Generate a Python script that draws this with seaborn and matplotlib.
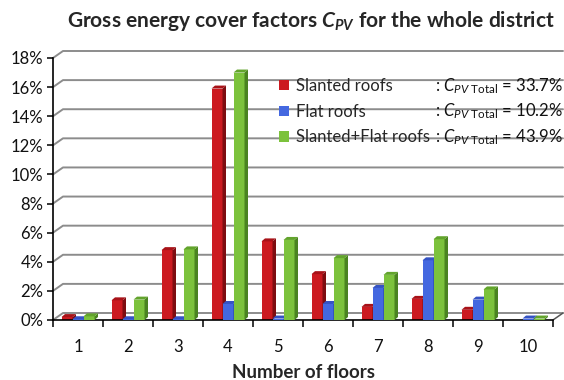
import matplotlib
matplotlib.use("Agg")
import numpy as np
import pandas as pd
import matplotlib.pyplot as plt
from matplotlib.patches import Polygon, Patch
import seaborn as sns

# Gross energy cover factors (in %) per number of floors
floors = ["1", "2", "3", "4", "5", "6", "7", "8", "9", "10"]
slanted = [0.20, 1.35, 4.80, 15.90, 5.40, 3.15, 0.90, 1.45, 0.70, 0.00]
flat = [0.05, 0.05, 0.05, 1.10, 0.10, 1.10, 2.20, 4.10, 1.40, 0.10]
combined = [0.25, 1.40, 4.85, 17.00, 5.50, 4.25, 3.10, 5.55, 2.10, 0.10]
series = ["Slanted roofs", "Flat roofs", "Slanted+Flat roofs"]
totals = [33.7, 10.2, 43.9]
yticks = [0, 2, 4, 6, 8, 10, 12, 14, 16, 18]

front_cols = ["#cc1a20", "#4468e0", "#7cc23c"]
side_cols = ["#7e0d11", "#253f9e", "#4a8320"]
top_cols = ["#a81218", "#3553c4", "#62a42c"]

df = pd.DataFrame({
    "floor": floors * 3,
    "value": slanted + flat + combined,
    "series": [s for s in series for _ in floors],
})

sns.set_theme(style="white")
plt.rcParams["font.family"] = ["Lato", "DejaVu Sans"]
plt.rcParams["mathtext.fontset"] = "custom"
plt.rcParams["mathtext.rm"] = "Lato"
plt.rcParams["mathtext.it"] = "Lato:italic"
plt.rcParams["mathtext.bf"] = "Lato:bold"
plt.rcParams["mathtext.bfit"] = "Lato:italic:bold"

fig = plt.figure(figsize=(5.64, 3.80), dpi=100)
ax = fig.add_axes([53 / 564, 60 / 380, 500 / 564, 262 / 380])

sns.barplot(data=df, x="floor", y="value", hue="series", hue_order=series,
            palette=front_cols, saturation=1, width=0.66, legend=False, ax=ax)

ax.set_xlim(-0.5, 9.5)
ax.set_ylim(0, 18)
ax.set_yticks(yticks)
ax.set_yticklabels([f"{v}%" for v in yticks], fontsize=12, color="#111111")
for s in ["top", "right"]:
    ax.spines[s].set_visible(False)
ax.spines["left"].set_color("black")
ax.spines["left"].set_linewidth(1.2)
ax.spines["bottom"].set_color("black")
ax.spines["bottom"].set_linewidth(1.2)
ax.set_xticks(np.arange(-0.5, 10, 1.0), minor=True)
ax.tick_params(axis="x", which="major", length=0, pad=14, labelsize=12,
               labelcolor="#111111")
ax.tick_params(axis="x", which="minor", length=5, width=1.1, color="black",
               direction="out", bottom=True)
ax.tick_params(axis="y", length=4, width=1.1, color="black", direction="out",
               left=True, pad=3)
ax.set_xlabel("Number of floors", fontsize=13.5, fontweight="bold", labelpad=6)
ax.set_ylabel("")

to_disp = ax.transData.transform
to_data = ax.transData.inverted().transform

# back wall grid, drawn as a slanted floor/wall outline
back = np.array([10.0, 7.0])
x0, x1 = ax.get_xlim()
for v in yticks:
    p = to_disp((x0, v))
    q = p + back
    r = np.array([to_disp((x1, v))[0] + back[0], q[1]])
    pts = to_data(np.array([p, q, r]))
    ax.plot(pts[:, 0], pts[:, 1], color="#8c8c8c", lw=1.4, clip_on=False, zorder=0.5)
# right edge of the floor
pr = to_disp((x1, 0))
pts = to_data(np.array([pr, pr + back]))
ax.plot(pts[:, 0], pts[:, 1], color="#555555", lw=1.1, clip_on=False, zorder=0.6)

# give each bar a shaded side and top face
depth = np.array([3.5, 3.0])
for k, cont in enumerate(ax.containers):
    for bar in cont:
        h = bar.get_height()
        if h <= 0:
            bar.set_visible(False)
            continue
        bar.set_zorder(2 + k)
        bar.set_edgecolor("none")
        bx, bw = bar.get_x(), bar.get_width()
        bl, br = to_disp((bx, 0)), to_disp((bx + bw, 0))
        tl, tr = to_disp((bx, h)), to_disp((bx + bw, h))
        side = to_data(np.array([br, br + depth, tr + depth, tr]))
        top = to_data(np.array([tl, tr, tr + depth, tl + depth]))
        ax.add_patch(Polygon(side, closed=True, facecolor=side_cols[k],
                             edgecolor="none", zorder=2 + k, clip_on=False))
        ax.add_patch(Polygon(top, closed=True, facecolor=top_cols[k],
                             edgecolor="none", zorder=2 + k, clip_on=False))

handles = [Patch(facecolor=c, edgecolor="none") for c in front_cols]
leg = ax.legend(handles, series, loc="upper left",
                bbox_to_anchor=(279 / 564, 1 - 78 / 380),
                bbox_transform=fig.transFigure, frameon=False, fontsize=12,
                handlelength=0.6, handleheight=0.6, handletextpad=0.45,
                labelspacing=0.58, borderaxespad=0, borderpad=0)

fig.canvas.draw()
renderer = fig.canvas.get_renderer()
for t, tot in zip(leg.get_texts(), totals):
    bb = t.get_window_extent(renderer)
    _, _, d = renderer.get_text_width_height_descent("lp", t.get_fontproperties(), ismath=False)
    base = bb.y0 + d
    fig.text(435 / 564, base / 380,
             r": $C_{PV\ \mathrm{Total}}$" + f" = {tot}%",
             fontsize=12, ha="left", va="baseline", color="#111111")

fig.text(311 / 564, 1 - 21 / 380,
         r"Gross energy cover factors $\mathbfit{C_{PV}}$ for the whole district",
         ha="center", va="center", fontsize=15, fontweight="bold")

fig.savefig("out.png", dpi=100)
